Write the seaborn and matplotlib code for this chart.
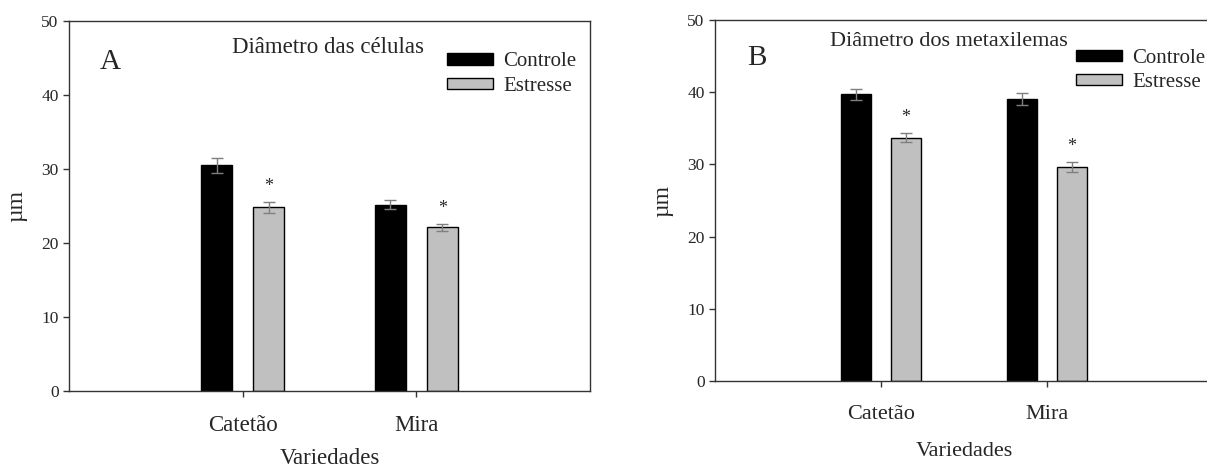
import matplotlib
matplotlib.use("Agg")
import matplotlib.pyplot as plt
import pandas as pd
import seaborn as sns

# Varieties and treatments
varieties = ["Catetão", "Mira"]
treatments = ["Controle", "Estresse"]

# Cell diameter (µm): means and standard errors
cell_controle = [30.5, 25.2]
cell_estresse = [24.8, 22.1]
cell_controle_se = [1.0, 0.65]
cell_estresse_se = [0.7, 0.5]

# Metaxylem diameter (µm): means and standard errors
xylem_controle = [39.7, 39.1]
xylem_estresse = [33.7, 29.7]
xylem_controle_se = [0.8, 0.85]
xylem_estresse_se = [0.65, 0.7]

# Significance marks over the stressed bars
sig_marks = ["*", "*"]

sns.set_style("ticks")
plt.rcParams["font.family"] = ["Liberation Serif", "DejaVu Serif"]
plt.rcParams["axes.linewidth"] = 1.0

palette = {"Controle": "#000000", "Estresse": "#c0c0c0"}
spine_color = "#333333"


def draw_panel(ax, controle, estresse, controle_se, estresse_se, title,
               letter, title_xy, letter_xy, label_size, xlabel_pad,
               legend_top):
    df = pd.DataFrame({
        "Variedade": varieties * 2,
        "Tratamento": [treatments[0]] * 2 + [treatments[1]] * 2,
        "valor": controle + estresse,
    })
    sns.barplot(data=df, x="Variedade", y="valor", hue="Tratamento",
                order=varieties, hue_order=treatments, palette=palette,
                width=0.6, gap=0.4, errorbar=None, edgecolor="black",
                linewidth=1.0, ax=ax, legend=False)

    for container, ses in zip(ax.containers, [controle_se, estresse_se]):
        for bar, se in zip(container, ses):
            cx = bar.get_x() + bar.get_width() / 2
            ax.errorbar(cx, bar.get_height(), yerr=se, fmt="none",
                        ecolor="#7f7f7f", elinewidth=1.0, capsize=4,
                        capthick=1.0, zorder=3)

    for bar, se, mark in zip(ax.containers[1], estresse_se, sig_marks):
        cx = bar.get_x() + bar.get_width() / 2
        ax.annotate(mark, xy=(cx, bar.get_height() + se), xytext=(0, 5),
                    textcoords="offset points", ha="center", va="bottom",
                    fontsize=13)

    ax.set_xlim(-1, 2)
    ax.set_ylim(0, 50)
    ax.set_yticks([0, 10, 20, 30, 40, 50])
    ax.set_xlabel("Variedades", fontsize=label_size, labelpad=xlabel_pad)
    ax.set_ylabel("µm", fontsize=17, labelpad=10)
    ax.tick_params(axis="y", direction="out", length=4.5, width=1,
                   labelsize=12.5, pad=3, color=spine_color)
    ax.tick_params(axis="x", direction="out", length=4.5, width=1,
                   labelsize=label_size, pad=12.5, color=spine_color)
    for side in ["top", "right", "left", "bottom"]:
        ax.spines[side].set_visible(True)
        ax.spines[side].set_color(spine_color)

    ax.text(title_xy[0], title_xy[1], title, transform=ax.transAxes,
            ha="center", va="center", fontsize=label_size)
    ax.text(letter_xy[0], letter_xy[1], letter, transform=ax.transAxes,
            ha="center", va="center", fontsize=21)

    ax.legend(ax.containers, treatments, loc="upper left",
              bbox_to_anchor=(0.7255, legend_top), frameon=False,
              fontsize=15, borderaxespad=0, borderpad=0, handlelength=2.2,
              handleheight=0.45, handletextpad=0.5, labelspacing=0.25)


fig = plt.figure(figsize=(12.07, 4.68), dpi=100)
ax_a = fig.add_axes([0.0572, 0.1645, 0.4317, 0.7906])
ax_b = fig.add_axes([0.5924, 0.186, 0.4126, 0.771])

draw_panel(ax_a, cell_controle, cell_estresse, cell_controle_se,
           cell_estresse_se, "Diâmetro das células", "A",
           (0.497, 0.928), (0.079, 0.888), 16.5, 9.0, 0.915)
draw_panel(ax_b, xylem_controle, xylem_estresse, xylem_controle_se,
           xylem_estresse_se, "Diâmetro dos metaxilemas", "B",
           (0.47, 0.94), (0.084, 0.895), 16, 13.5, 0.92)

fig.savefig("out.png", dpi=100)
